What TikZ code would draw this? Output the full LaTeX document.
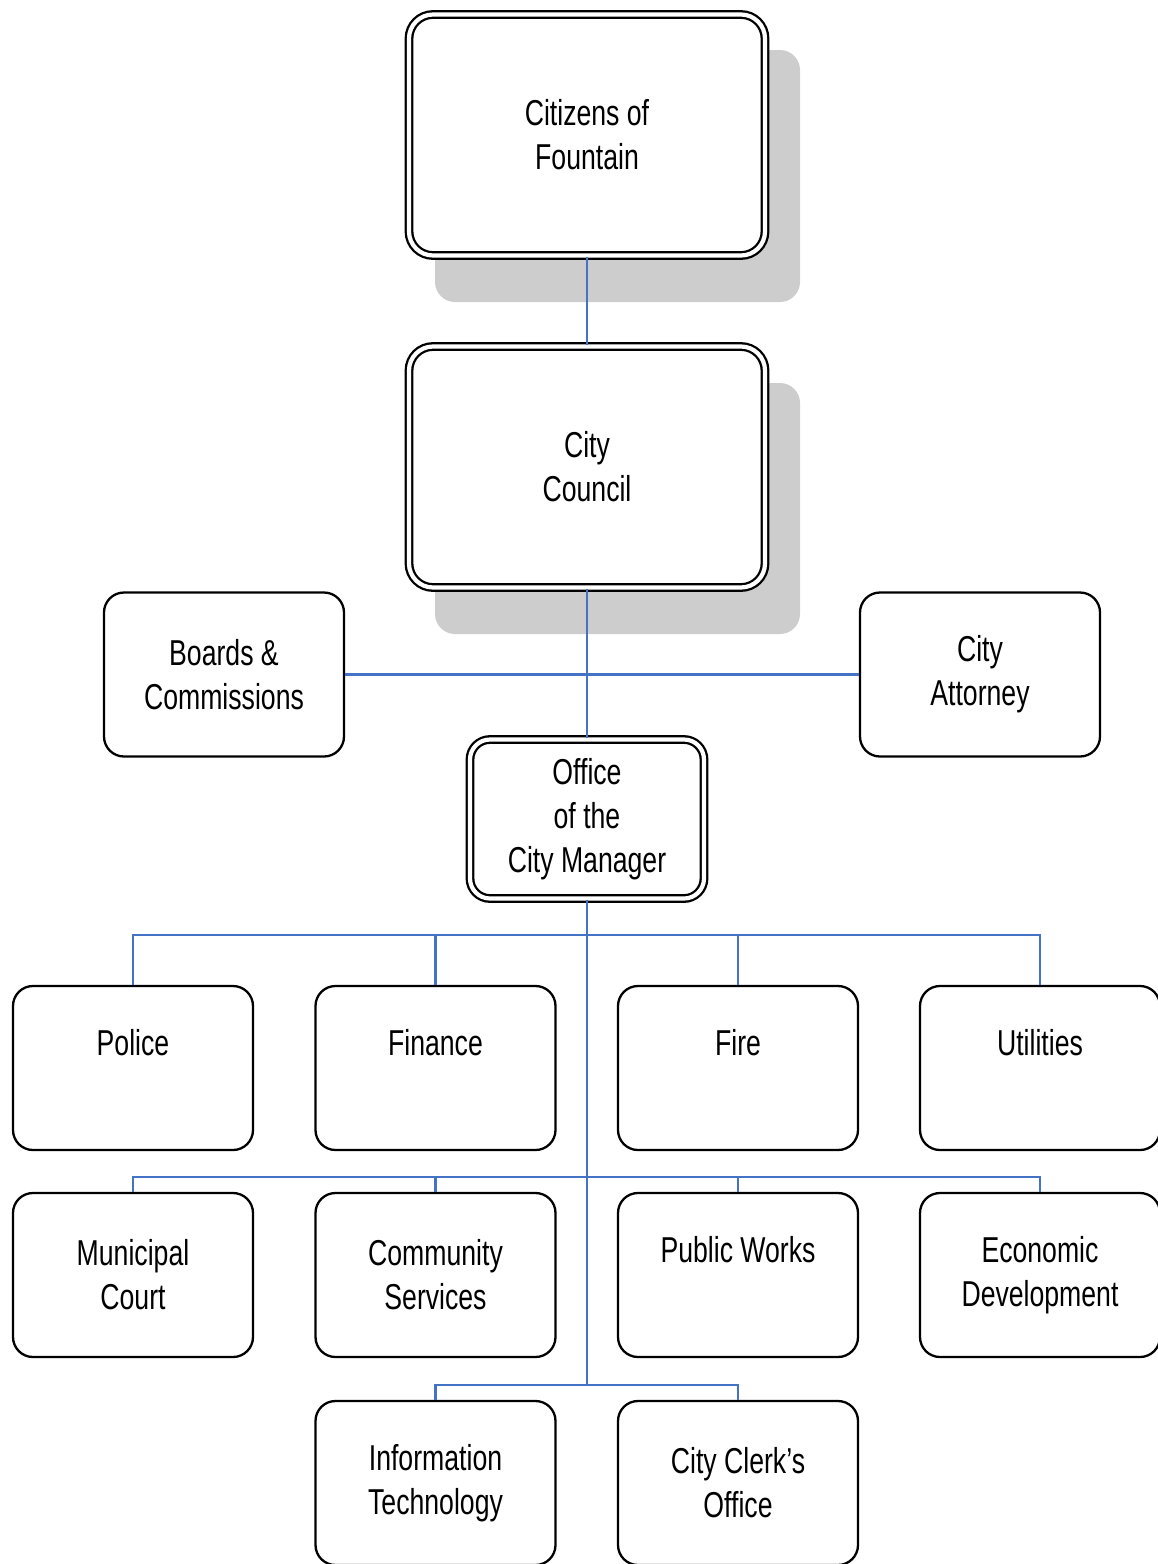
\documentclass[tikz,border=0pt]{standalone}
\usepackage{fontspec}
\setmainfont{Liberation Sans}[FakeStretch=0.74]
\definecolor{connblue}{RGB}{68,114,196}
\definecolor{shadowgray}{RGB}{205,205,205}
\begin{document}
\begin{tikzpicture}[x=1pt,y=-1pt,
  txt/.style={font=\fontsize{36}{44}\selectfont, align=center, inner sep=0pt},
  unitbox/.style={txt, draw, fill=white, line width=2.3pt, rounded corners=20pt,
    minimum width=240pt, minimum height=164pt},
  bigbox/.style={txt, draw, double=white, fill=white, line width=2.3pt, double distance=4.2pt,
    rounded corners=24pt, minimum width=356pt, minimum height=241pt},
  mgrbox/.style={txt, draw, double=white, fill=white, line width=2.3pt, double distance=4.2pt,
    rounded corners=20pt, minimum width=234pt, minimum height=159pt},
  shadowbox/.style={fill=shadowgray, rounded corners=20pt},
  conn/.style={draw=connblue, line width=2.6pt}]
\useasboundingbox (0,0) rectangle (1157,1564);
% shadows
\fill[shadowbox] (435,50) rectangle (800,302);
\fill[shadowbox] (435,383) rectangle (800,634);
% nodes
\node[bigbox] (citizens) at (587,135) {Citizens of\\Fountain};
\node[bigbox] (council) at (587,467) {City\\Council};
\node[unitbox] (boards) at (224,674.5) {Boards \&\\Commissions};
\node[unitbox] (attorney) at (980,674.5) {City\\Attorney};
\node[mgrbox] (manager) at (587,819) {Office\\of the\\City Manager};
\node[unitbox] (police) at (133,1068) {Police\\\vphantom{Cy}};
\node[unitbox] (finance) at (435.5,1068) {Finance\\\vphantom{Cy}};
\node[unitbox] (fire) at (738,1068) {Fire\\\vphantom{Cy}};
\node[unitbox] (utilities) at (1040,1068) {Utilities\\\vphantom{Cy}};
\node[unitbox] (court) at (133,1275) {Municipal\\Court};
\node[unitbox] (community) at (435.5,1275) {Community\\Services};
\node[unitbox] (works) at (738,1275) {Public Works\\\vphantom{Cy}};
\node[unitbox] (econ) at (1040,1275) {Economic\\Development};
\node[unitbox] (it) at (435.5,1483) {Information\\Technology};
\node[unitbox] (clerk) at (738,1483) {City Clerk’s\\Office};
% junction coordinates
\coordinate (h1) at (587,935);
\coordinate (h2) at (587,1177);
\coordinate (h3) at (587,1385);
% connectors
\draw[conn] (citizens.south) -- (council.north);
\draw[conn] (council.south) -- (manager.north);
\draw[conn] (boards.east) -- (attorney.west);
\draw[conn] (manager.south) -- (h3);
\draw[conn] (police.north) -- (police.north |- h1) -- (utilities.north |- h1) -- (utilities.north);
\draw[conn] (finance.north) -- (finance.north |- h1);
\draw[conn] (fire.north) -- (fire.north |- h1);
\draw[conn] (court.north) -- (court.north |- h2) -- (econ.north |- h2) -- (econ.north);
\draw[conn] (community.north) -- (community.north |- h2);
\draw[conn] (works.north) -- (works.north |- h2);
\draw[conn] (it.north) -- (it.north |- h3) -- (clerk.north |- h3) -- (clerk.north);
\end{tikzpicture}
\end{document}
